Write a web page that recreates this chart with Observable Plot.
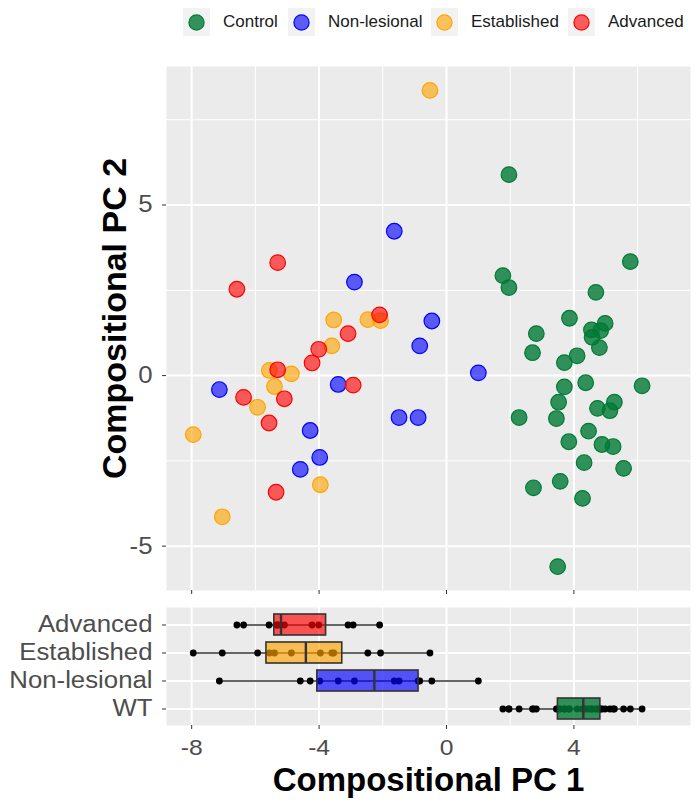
<!DOCTYPE html>
<html><head><meta charset="utf-8">
<script src="https://cdn.jsdelivr.net/npm/d3@7"></script>
<script src="https://cdn.jsdelivr.net/npm/@observablehq/plot@0.6"></script>
<style>
body{margin:0;background:#fff;font-family:"Liberation Sans",Arial,sans-serif}
#root{position:relative;width:700px;height:804px;overflow:hidden}
.panel{position:absolute;left:0}
.leg{position:absolute;top:8px;height:28px;display:flex;align-items:center;font-size:17px;color:#1a1a1a;white-space:nowrap}
.key{width:27px;height:28px;background:#f2f2f2;margin-right:13px;display:block}
</style></head><body><div id="root"></div>
<script>
// ---- data ----
const groups = ["Control", "Non-lesional", "Established", "Advanced"];
const boxCategories = ["Advanced", "Established", "Non-lesional", "WT"];
const groupToBox = {"Control": "WT", "Non-lesional": "Non-lesional", "Established": "Established", "Advanced": "Advanced"};
const groupColors = ["#007a35", "#0000ff", "#ffa500", "#ff0000"];

const controlX = [1.96, 5.77, 1.77, 1.96, 4.69, 3.86, 4.98, 4.55, 4.84, 4.57, 2.82, 4.80, 2.70, 4.10, 3.70, 3.70, 4.37, 6.14, 3.52, 4.74, 5.27, 5.13, 2.28, 3.45, 4.46, 3.84, 4.88, 5.23, 4.32, 5.56, 3.57, 2.73, 4.27, 3.49];
const controlY = [5.89, 3.34, 2.93, 2.58, 2.44, 1.68, 1.53, 1.34, 1.32, 1.12, 1.23, 0.82, 0.67, 0.58, 0.38, -0.33, -0.21, -0.30, -0.78, -0.96, -0.78, -1.03, -1.23, -1.26, -1.63, -1.94, -2.02, -2.08, -2.55, -2.72, -3.10, -3.29, -3.60, -5.60];
const nonLesionalX = [-1.64, -2.89, -0.46, -0.84, -7.13, -3.40, -1.49, -0.89, -4.28, -3.98, -4.59, 1.00];
const nonLesionalY = [4.23, 2.74, 1.60, 0.87, -0.41, -0.26, -1.23, -1.23, -1.61, -2.40, -2.75, 0.08];
const establishedX = [-0.52, -3.54, -2.47, -2.07, -3.60, -5.56, -4.87, -5.40, -5.93, -7.95, -3.96, -7.04];
const establishedY = [8.36, 1.63, 1.64, 1.61, 0.87, 0.15, 0.05, -0.32, -0.93, -1.73, -3.20, -4.14];
const advancedX = [-5.30, -6.58, -2.10, -3.09, -4.01, -4.22, -5.30, -2.93, -6.37, -5.09, -5.57, -5.35];
const advancedY = [3.31, 2.53, 1.78, 1.23, 0.77, 0.37, 0.17, -0.28, -0.64, -0.68, -1.39, -3.42];

const xMajor = [-8, -4, 0, 4];
const xMinor = [-6, -2, 2, 6];
const yMajor = [-5, 0, 5];
const yMinor = [-2.5, 2.5, 7.5];

// ---- build tables ----
const seriesX = [controlX, nonLesionalX, establishedX, advancedX];
const seriesY = [controlY, nonLesionalY, establishedY, advancedY];
const points = [];
groups.forEach((g, gi) => seriesX[gi].forEach((x, i) => points.push({group: g, box: groupToBox[g], x, y: seriesY[gi][i]})));

function boxStats(cat, xs) {
  const s = xs.slice().sort(d3.ascending);
  const q1 = d3.quantile(s, 0.25), med = d3.quantile(s, 0.5), q3 = d3.quantile(s, 0.75);
  const iqr = q3 - q1;
  const lo = d3.min(s.filter(v => v >= q1 - 1.5 * iqr));
  const hi = d3.max(s.filter(v => v <= q3 + 1.5 * iqr));
  return {cat, q1, med, q3, lo, hi};
}
const stats = groups.map((g, gi) => boxStats(groupToBox[g], seriesX[gi]));
const boxColor = {WT: groupColors[0], "Non-lesional": groupColors[1], Established: groupColors[2], Advanced: groupColors[3]};

const xDomain = [-8.79, 7.66];
const font = "'Liberation Sans', Arial, Helvetica, sans-serif";
const hyphenFormat = d => String(d);
const root = document.getElementById("root");

// ---- legend ----
const legendLeft = [183, 288, 431, 568];
groups.forEach((g, i) => {
  const d = document.createElement("div");
  d.className = "leg";
  d.style.left = legendLeft[i] + "px";
  const op = i === 0 ? 0.8 : 0.62;
  d.innerHTML = `<svg class="key" width="27" height="28"><rect width="27" height="28" fill="#f2f2f2"/><circle cx="13.5" cy="14.5" r="7.6" fill="${groupColors[i]}" fill-opacity="${op}" stroke="${groupColors[i]}" stroke-width="1.2"/></svg><span>${g}</span>`;
  root.appendChild(d);
});

// ---- scatter panel ----
const scatter = Plot.plot({
  width: 700, height: 600,
  marginLeft: 166, marginRight: 10, marginTop: 66, marginBottom: 10,
  style: {fontFamily: font, background: "transparent", overflow: "visible"},
  x: {domain: xDomain},
  y: {domain: [-6.30, 9.06]},
  color: {domain: groups, range: groupColors},
  marks: [
    Plot.frame({fill: "#ebebeb", stroke: "none"}),
    Plot.gridX(xMinor, {stroke: "white", strokeOpacity: 1, strokeWidth: 1}),
    Plot.gridY(yMinor, {stroke: "white", strokeOpacity: 1, strokeWidth: 1}),
    Plot.gridX(xMajor, {stroke: "white", strokeOpacity: 1, strokeWidth: 2}),
    Plot.gridY(yMajor, {stroke: "white", strokeOpacity: 1, strokeWidth: 2}),
    Plot.axisX({ticks: xMajor, tickSize: 4, tickFormat: () => "", stroke: "#333", label: null}),
    Plot.axisY({ticks: yMajor, tickSize: 4, tickPadding: 10, fontSize: 23, fill: "#4d4d4d", stroke: "#333", label: null, tickFormat: hyphenFormat}),
    Plot.dot(points.filter(d => d.group === "Control"), {x: "x", y: "y", r: 7.8, fill: "group", stroke: "group", fillOpacity: 0.8, strokeWidth: 1.2}),
    Plot.dot(points.filter(d => d.group !== "Control"), {x: "x", y: "y", r: 7.8, fill: "group", stroke: "group", fillOpacity: 0.62, strokeWidth: 1.2}),
    Plot.text(["Compositional PC 2"], {frameAnchor: "left", textAnchor: "middle", lineAnchor: "bottom", rotate: -90, dx: -41, dy: -10, fontSize: 34, fontWeight: "bold", fill: "black"})
  ]
});
scatter.classList.add("panel");
scatter.style.top = "0px";
root.appendChild(scatter);

// ---- box panel ----
const box = Plot.plot({
  width: 700, height: 204,
  marginLeft: 166, marginRight: 10, marginTop: 7, marginBottom: 79,
  style: {fontFamily: font, background: "transparent", overflow: "visible"},
  x: {domain: xDomain},
  y: {domain: boxCategories, type: "band", paddingInner: 0.25, paddingOuter: 0.232},
  marks: [
    Plot.frame({fill: "#ebebeb", stroke: "none"}),
    Plot.gridX(xMinor, {stroke: "white", strokeOpacity: 1, strokeWidth: 1}),
    Plot.gridX(xMajor, {stroke: "white", strokeOpacity: 1, strokeWidth: 2}),
    Plot.gridY(boxCategories, {stroke: "white", strokeOpacity: 1, strokeWidth: 2}),
    Plot.axisX({ticks: xMajor, tickSize: 4, tickPadding: 10, fontSize: 22, fill: "#4d4d4d", stroke: "#333", label: null, tickFormat: hyphenFormat}),
    Plot.axisY({tickSize: 4, tickPadding: 10, fontSize: 23, fill: "#4d4d4d", stroke: "#333", label: null}),
    Plot.ruleY(stats, {y: "cat", x1: "lo", x2: "hi", stroke: "#333", strokeWidth: 1.6}),
    Plot.dot(points, {x: "x", y: "box", r: 3.4, fill: "black", stroke: "none"}),
    Plot.barX(stats.filter(d => d.cat !== "WT"), {y: "cat", x1: "q1", x2: "q3", fill: d => boxColor[d.cat], fillOpacity: 0.65, stroke: "#333", strokeWidth: 1.6}),
    Plot.barX(stats.filter(d => d.cat === "WT"), {y: "cat", x1: "q1", x2: "q3", fill: d => boxColor[d.cat], fillOpacity: 0.8, stroke: "#333", strokeWidth: 1.6}),
    Plot.tickX(stats, {x: "med", y: "cat", stroke: "#333", strokeWidth: 2.4}),
    Plot.text(["Compositional PC 1"], {frameAnchor: "bottom", textAnchor: "middle", lineAnchor: "bottom", dy: 65, fontSize: 33, fontWeight: "bold", fill: "black"})
  ]
});
box.classList.add("panel");
box.style.top = "600px";
root.appendChild(box);

// widen tick labels horizontally to match the reference's proportions
function stretch(svg, factor) {
  svg.querySelectorAll('g[aria-label="y-axis tick label"] text, g[aria-label="x-axis tick label"] text').forEach(t => {
    const w = t.getComputedTextLength();
    if (w > 0) { t.setAttribute("textLength", w * factor); t.setAttribute("lengthAdjust", "spacingAndGlyphs"); }
  });
}
stretch(scatter, 1.12);
stretch(box, 1.12);
</script></body></html>
